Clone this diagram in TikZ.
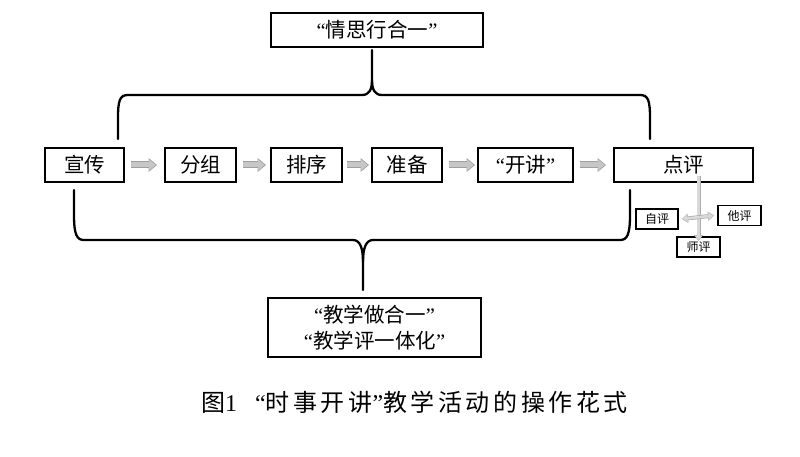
\documentclass[tikz,border=0pt]{standalone}
\usepackage{fontspec}
\setmainfont{Liberation Serif}
\newfontfamily\cjk{Noto Sans CJK SC}
\newfontfamily\cjkcap[LetterSpace=15]{Noto Sans CJK SC}
\usetikzlibrary{arrows.meta}
\newcommand\myoq{{\rmfamily “}}
\newcommand\mycq{{\rmfamily ”}}
\begin{document}
\begin{tikzpicture}[x=1pt,y=-1pt,
  box/.style={draw=black, line width=2.3pt, inner sep=0pt, outer sep=0pt,
    minimum height=34pt, font=\cjk\fontsize{20.5}{26}\selectfont, align=center},
  smallbox/.style={draw=black, line width=1.4pt, inner sep=0pt, outer sep=0pt,
    minimum height=20pt, minimum width=43pt, font=\cjk\fontsize{12}{13}\selectfont},
  brace/.style={line width=2.3pt, line cap=round},
  fatarrow/.style={line width=5pt, draw=gray!45, shorten >=1.3pt,
    -{Triangle[length=6.5pt,width=10.5pt]},
    preaction={draw=gray!75, line width=7pt, shorten >=0pt,
      -{Triangle[length=8.5pt,width=13.5pt]}}},
  thinarrow/.style={line width=2.6pt, draw=gray!30, shorten >=1pt,
    -{Triangle[length=4.5pt,width=7pt]},
    preaction={draw=gray!65, line width=4pt, shorten >=0pt,
      -{Triangle[length=6pt,width=9pt]}}},
  thindbl/.style={line width=2.6pt, draw=gray!30, shorten >=1pt, shorten <=1pt,
    {Triangle[length=4.5pt,width=7pt]}-{Triangle[length=4.5pt,width=7pt]},
    preaction={draw=gray!65, line width=4pt, shorten >=0pt, shorten <=0pt,
      {Triangle[length=6pt,width=9pt]}-{Triangle[length=6pt,width=9pt]}}},
]
\useasboundingbox (0,0) rectangle (800,457);
\fill[white] (0,0) rectangle (800,457);

% top box
\node[box, minimum width=212pt] (top) at (377,30) {\myoq 情思行合一\mycq};

% flow boxes
\node[box, minimum width=79pt]  (xc) at (84.5,165) {宣传};
\node[box, minimum width=71pt]  (fz) at (200.5,165) {分组};
\node[box, minimum width=71pt]  (px) at (306.5,165) {排序};
\node[box, minimum width=70pt]  (zb) at (407,165) {准备};
\node[box, minimum width=95pt]  (kj) at (525.5,165) {\myoq 开讲\mycq};
\node[box, minimum width=139pt] (dp) at (683.5,165) {点评};

% small boxes
\node[smallbox, minimum width=42pt] (zp) at (657,219) {自评};
\node[smallbox] (tp) at (739.5,215.5) {他评};
\node[smallbox] (sp) at (698.5,247) {师评};

% bottom box
\node[box, minimum width=213pt, minimum height=59pt] (bot) at (374.5,327.5)
  {\myoq 教学做合一\mycq\\\myoq 教学评一体化\mycq};

% caption
\node[inner sep=0pt, font=\cjkcap\fontsize{24}{26}\selectfont] (cap) at (414.5,402)
  {图{\rmfamily 1}\hspace{18pt}\myoq 时事开讲\mycq 教学活动的操作花式};

% flow arrows
\draw[fatarrow] ([xshift=7pt]xc.east) -- ([xshift=-8pt]fz.west);
\draw[fatarrow] ([xshift=7pt]fz.east) -- ([xshift=-5pt]px.west);
\draw[fatarrow] ([xshift=5pt]px.east) -- ([xshift=-3pt]zb.west);
\draw[fatarrow] ([xshift=7pt]zb.east) -- ([xshift=-3pt]kj.west);
\draw[fatarrow] ([xshift=7pt]kj.east) -- ([xshift=-8pt]dp.west);

% evaluation cross
\coordinate (vtop) at ([yshift=6pt]sp.north |- dp.south);
\draw[thinarrow] (vtop) -- ([yshift=-4pt]sp.north);
\draw[thindbl] ([xshift=4pt]zp.east) -- ([xshift=-4pt]tp.west);

% top brace
\coordinate (tl) at (118,139);
\coordinate (tr) at (650,139);
\coordinate (tc) at (372,50);
\draw[brace] (tl) -- (118,118) .. controls (118,100) and (120,95) .. (128,95)
  -- (362,95) .. controls (369,95) and (372,90) .. (372,80) -- (tc);
\draw[brace] (372,80) .. controls (372,90) and (375,95) .. (382,95)
  -- (640,95) .. controls (648,95) and (650,100) .. (650,118) -- (tr);

% bottom brace
\coordinate (bl) at (74,190);
\coordinate (br) at (630,190);
\coordinate (bc) at (363,290);
\draw[brace] (bl) -- (74,215) .. controls (74,235) and (77,240) .. (84,240)
  -- (353,240) .. controls (360,240) and (363,248) .. (363,262) -- (bc);
\draw[brace] (363,262) .. controls (363,248) and (366,240) .. (373,240)
  -- (620,240) .. controls (627,240) and (630,235) .. (630,215) -- (br);
\end{tikzpicture}
\end{document}
